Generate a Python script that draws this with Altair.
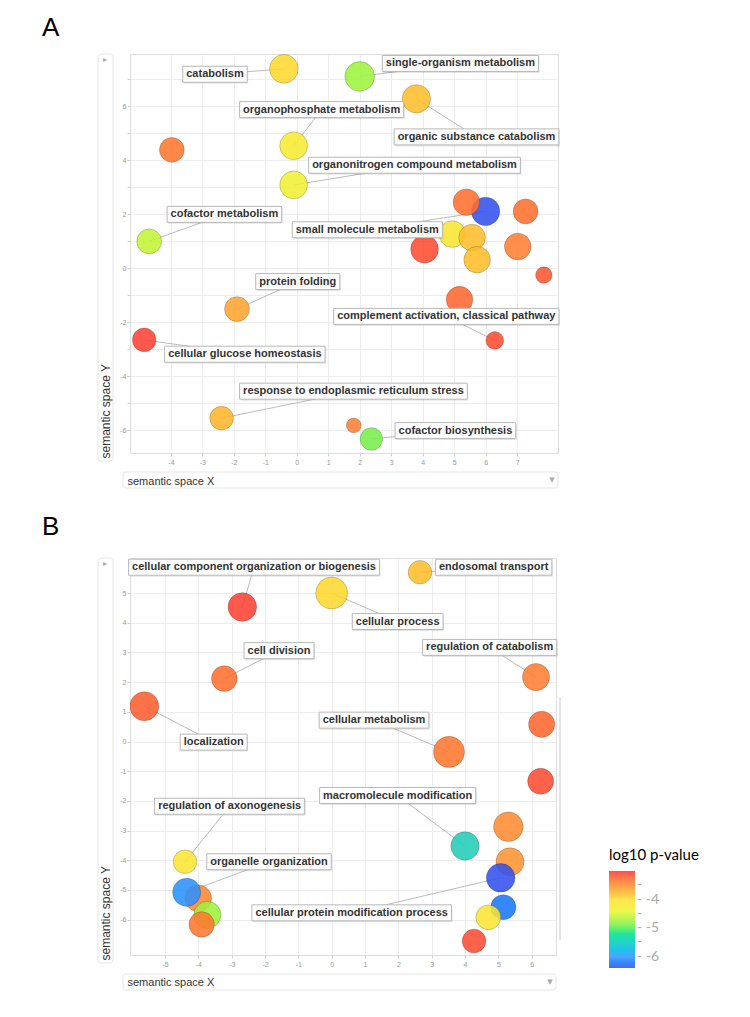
import altair as alt
import pandas as pd

# ---------------- Panel A data ----------------
A_x = [-0.41, 2.00, 3.80, -3.97, -0.10, -0.10, -4.69, 6.00, 5.39, 7.27, 4.94, 5.57,
       7.02, 4.06, 5.73, 7.85, 5.17, -1.90, 6.29, -4.85, -2.39, 1.81, 2.37]
A_y = [7.38, 7.10, 6.27, 4.38, 4.53, 3.08, 0.99, 2.10, 2.44, 2.10, 1.26, 1.13,
       0.80, 0.70, 0.31, -0.26, -1.17, -1.52, -2.68, -2.66, -5.56, -5.83, -6.33]
A_logp = [-3.95, -4.75, -3.80, -3.35, -4.20, -4.35, -4.60, -6.40, -3.30, -3.30, -4.10, -3.80,
          -3.40, -3.10, -3.80, -3.15, -3.25, -3.65, -3.10, -3.05, -3.75, -3.40, -4.90]
A_logsize = [4.05, 4.17, 4.00, 3.50, 3.92, 3.92, 3.50, 4.00, 3.75, 3.50, 3.75, 3.75,
             3.75, 3.92, 3.75, 2.33, 3.75, 3.50, 2.50, 3.33, 3.33, 2.08, 3.17]

A_labels = ["catabolism", "single-organism metabolism", "organophosphate metabolism",
            "organic substance catabolism", "organonitrogen compound metabolism",
            "cofactor metabolism", "small molecule metabolism", "protein folding",
            "complement activation, classical pathway", "cellular glucose homeostasis",
            "response to endoplasmic reticulum stress", "cofactor biosynthesis"]
A_label_x = [-2.60, 5.20, 0.79, 5.71, 3.74, -2.30, 2.24, 0.03, 4.75, -1.65, 1.80, 5.04]
A_label_y = [7.18, 7.58, 5.87, 4.86, 3.81, 1.99, 1.42, -0.50, -1.79, -3.19, -4.56, -6.02]
A_label_term = [0, 1, 4, 2, 5, 6, 7, 17, 18, 19, 20, 22]

# ---------------- Panel B data ----------------
B_x = [-2.68, 0.00, 2.65, -3.22, 6.13, -5.62, 6.30, 3.52, 6.27, 5.30, 4.00, 5.35,
       5.07, 5.15, 4.70, 4.27, -4.40, -4.00, -4.35, -3.73, -3.90]
B_y = [4.53, 5.00, 5.70, 2.12, 2.17, 1.19, 0.58, -0.35, -1.34, -2.87, -3.52, -4.05,
       -4.59, -5.58, -5.92, -6.72, -4.05, -5.28, -5.08, -5.84, -6.16]
B_logp = [-3.05, -3.95, -3.80, -3.30, -3.40, -3.20, -3.25, -3.35, -3.10, -3.50, -5.50, -3.55,
          -6.40, -6.20, -4.10, -3.10, -4.10, -3.45, -6.05, -4.75, -3.35]
B_logsize = [4.04, 4.50, 3.33, 3.62, 3.83, 4.08, 3.70, 4.38, 3.67, 4.17, 4.00, 3.96,
             4.04, 3.54, 3.50, 3.33, 3.33, 3.75, 3.96, 3.83, 3.58]

B_labels = ["cellular component organization or biogenesis", "endosomal transport",
            "cellular process", "cell division", "regulation of catabolism", "localization",
            "cellular metabolism", "macromolecule modification", "regulation of axonogenesis",
            "organelle organization", "cellular protein modification process"]
B_label_x = [-2.33, 4.86, 1.98, -1.58, 4.74, -3.54, 1.27, 1.98, -3.06, -1.88, 0.60]
B_label_y = [5.87, 5.87, 4.04, 3.06, 3.17, -0.02, 0.72, -1.82, -2.18, -4.05, -5.77]
B_label_term = [0, 2, 1, 3, 4, 5, 7, 10, 16, 18, 12]

# colour scale stops (log10 p-value)
C_domain = [-6.4, -6.0, -5.5, -5.0, -4.4, -4.0, -3.5, -3.0]
C_range = ["#3350ee", "#3399ff", "#22ccb8", "#55ee55", "#eef533", "#ffe033", "#ff8c33", "#ff3333"]

LEG_VALUES = [-3.5, -4.0, -4.5, -5.0, -5.5, -6.0]

# ---------------- helpers ----------------
W = {'a': 556, 'b': 611, 'c': 556, 'd': 611, 'e': 556, 'f': 333, 'g': 611, 'h': 611, 'i': 278,
     'j': 278, 'k': 556, 'l': 278, 'm': 889, 'n': 611, 'o': 611, 'p': 611, 'q': 611, 'r': 389,
     's': 556, 't': 333, 'u': 611, 'v': 556, 'w': 778, 'x': 556, 'y': 556, 'z': 500, ' ': 278,
     ',': 278, '-': 333}
FS = 11


def text_w(s):
    return sum(W.get(c, 600) for c in s) * FS / 1000.0


def box_path(s):
    hw = (text_w(s) + 7) / 2.0 / 8.0
    return f"M{-hw:.3f},-1H{hw:.3f}V1H{-hw:.3f}Z"


NUM = "datum.value < 0 ? '-' + abs(datum.value) : '' + datum.value"


def panel(bx, by, blp, bsz, labs, lx, ly, lterm, xdom, ydom, w, h, xvals, yvals,
          y_even, letter, letter_y, show_legend, xtitle_y, artifact=False):
    bub = pd.DataFrame({"x": bx, "y": by, "logp": blp, "logsize": bsz})
    lab = pd.DataFrame({"label": labs, "lx": lx, "ly": ly,
                        "bx": [bx[i] for i in lterm], "by": [by[i] for i in lterm]})
    lab["path"] = [box_path(s) for s in labs]
    one = pd.DataFrame({"k": [0]})

    xs = alt.Scale(domain=xdom, nice=False, zero=False)
    ys = alt.Scale(domain=ydom, nice=False, zero=False)

    ylab = (f"datum.value % 2 == 0 ? ({NUM}) : ''") if y_even else NUM

    xaxis = alt.Axis(values=xvals, grid=True, gridColor="#ededed", domain=False,
                     tickColor="#cfcfcf", tickSize=3, labelPadding=2, labelFontSize=7,
                     labelColor="#999999", labelExpr=NUM, title="semantic space X",
                     titleX=-3, titleY=xtitle_y, titleAlign="left", titleBaseline="alphabetic",
                     titleFontWeight="normal", titleFontSize=11, titleColor="#333333",
                     titleFont="Liberation Sans", labelFont="Liberation Sans")
    yaxis = alt.Axis(values=yvals, grid=True, gridColor="#ededed", domain=False,
                     tickColor="#cfcfcf", tickSize=3, labelPadding=1, labelFontSize=7,
                     labelColor="#999999", labelExpr=ylab, title="semantic space Y",
                     titleX=-25, titleY=h + 5, titleAngle=270, titleAlign="left",
                     titleBaseline="middle", titleFontWeight="normal", titleFontSize=12,
                     titleColor="#333333", titleFont="Liberation Sans",
                     labelFont="Liberation Sans", minExtent=12, maxExtent=12)

    if show_legend:
        legend = alt.Legend(title="log10 p-value", orient="none", legendX=479, legendY=290,
                            direction="vertical", gradientLength=97, gradientThickness=26,
                            values=LEG_VALUES, labelOverlap=False,
                            labelExpr="datum.value % 1 == 0 ? '- -' + abs(datum.value) : '-'",
                            titleFont="Lato", titleFontSize=15, titleFontWeight="normal",
                            titleColor="#000000", labelFont="Lato", labelFontSize=14,
                            labelColor="#aaaaaa", labelOffset=2, titlePadding=8,
                            gradientStrokeWidth=0)
    else:
        legend = None

    def X(f):
        return alt.X(f, scale=xs, axis=xaxis)

    def Y(f):
        return alt.Y(f, scale=ys, axis=yaxis)

    # decorative frames around the axis titles
    ybox = alt.Chart(one).mark_rect(fillOpacity=0, stroke="#e6e6e6", strokeWidth=1,
                                    cornerRadius=3).encode(
        x=alt.value(-32), x2=alt.value(-17), y=alt.value(0), y2=alt.value(h + 8))
    xbox = alt.Chart(one).mark_rect(fillOpacity=0, stroke="#e6e6e6", strokeWidth=1,
                                    cornerRadius=3).encode(
        x=alt.value(-7), x2=alt.value(w), y=alt.value(h + 19), y2=alt.value(h + 35))
    tri = alt.Chart(one).mark_text(text="\u25b8", font="DejaVu Sans", fontSize=8,
                                   color="#aaaaaa").encode(x=alt.value(-25), y=alt.value(6))
    tri2 = alt.Chart(one).mark_text(text="\u25bc", font="DejaVu Sans", fontSize=7,
                                    color="#aaaaaa").encode(x=alt.value(w - 6), y=alt.value(h + 27))
    let = alt.Chart(one).mark_text(text=letter, font="Liberation Sans", fontSize=26,
                                   align="left", baseline="alphabetic", color="#000000").encode(
        x=alt.value(-88), y=alt.value(letter_y))

    lines = alt.Chart(lab).mark_rule(color="#aaaaaa", strokeWidth=0.8, clip=True).encode(
        x=X("bx:Q"), y=Y("by:Q"), x2="lx:Q", y2="ly:Q")

    bubbles = alt.Chart(bub).mark_circle(opacity=0.87, stroke="#000000", strokeOpacity=0.22,
                                         strokeWidth=1, clip=True).encode(
        x=X("x:Q"), y=Y("y:Q"),
        color=alt.Color("logp:Q", scale=alt.Scale(domain=C_domain, range=C_range), legend=legend),
        size=alt.Size("logsize:Q", scale=alt.Scale(type="pow", exponent=2, domain=[0, 5],
                                                   range=[0, 1257]), legend=None))

    shadow = alt.Chart(lab).mark_point(filled=True, fill="#000000", opacity=0.10, strokeWidth=0,
                                       xOffset=1, yOffset=1.5).encode(
        x=X("lx:Q"), y=Y("ly:Q"),
        shape=alt.Shape("path:N", scale=None), size=alt.value(256))
    boxes = alt.Chart(lab).mark_point(filled=True, fill="#ffffff", stroke="#b8b8b8",
                                      strokeWidth=1, opacity=1).encode(
        x=X("lx:Q"), y=Y("ly:Q"),
        shape=alt.Shape("path:N", scale=None), size=alt.value(256))
    texts = alt.Chart(lab).mark_text(font="Liberation Sans", fontSize=FS, fontWeight="bold",
                                     color="#333333", align="center", baseline="middle").encode(
        x=X("lx:Q"), y=Y("ly:Q"), text="label:N")

    layers = [ybox, xbox, tri, tri2, let, lines, bubbles, shadow, boxes, texts]
    if artifact:
        layers.append(alt.Chart(one).mark_rule(color="#dddddd", strokeWidth=1.5).encode(
            x=alt.value(w + 4), y=alt.value(139), y2=alt.value(382)))
    return alt.layer(*layers).properties(width=w, height=h)


pA = panel(A_x, A_y, A_logp, A_logsize, A_labels, A_label_x, A_label_y, A_label_term,
           [-5.3, 8.3], [-6.85, 7.93], 428, 399, list(range(-4, 8)), list(range(-6, 8)),
           True, "A", -18.3, False, 31)
pB = panel(B_x, B_y, B_logp, B_logsize, B_labels, B_label_x, B_label_y, B_label_term,
           [-6.05, 6.73], [-7.19, 6.18], 426, 397, list(range(-5, 7)), list(range(-6, 6)),
           False, "B", -23, True, 30, artifact=True)

chart = alt.vconcat(pA, pB, spacing=24).resolve_scale(color="independent").properties(
    padding={"left": 33, "top": 6, "right": 5, "bottom": 5}
).configure_view(stroke="#dddddd", strokeWidth=1).configure(background="white")

chart.save("out.html", embed_options={"renderer": "svg", "actions": False})
